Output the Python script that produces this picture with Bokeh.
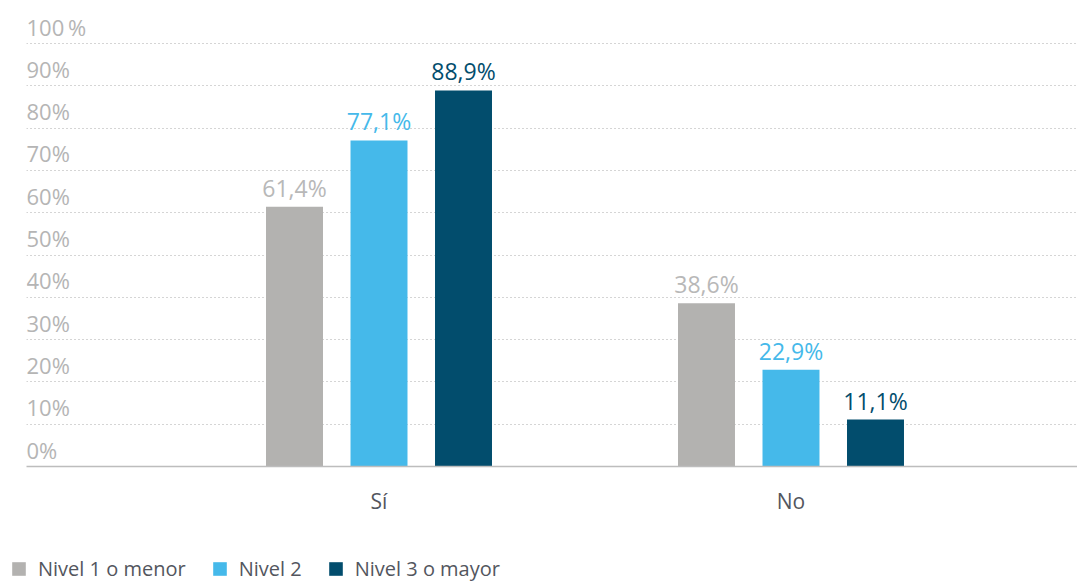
from bokeh.plotting import figure
from bokeh.layouts import column
from bokeh.models import Range1d, FixedTicker, Legend, LegendItem, ColumnDataSource, LabelSet
from bokeh.core.properties import value
from bokeh.embed import file_html
from bokeh.resources import INLINE

# ---- data ----
categories = ["Sí", "No"]
series_names = ["Nivel 1 o menor", "Nivel 2", "Nivel 3 o mayor"]
nivel1 = [61.4, 38.6]
nivel2 = [77.1, 22.9]
nivel3 = [88.9, 11.1]
y_ticks = [0, 10, 20, 30, 40, 50, 60, 70, 80, 90, 100]
y_tick_labels = ["0%", "10%", "20%", "30%", "40%", "50%", "60%", "70%", "80%", "90%", "100\u2009%"]

# ---- style ----
FONT = "Open Sans"
bar_colors = ["#b3b2b0", "#45b9ea", "#024d6d"]
label_colors = ["#b8b8b8", "#45b9ea", "#024d6d"]
axis_text_color = "#b5b5b5"
dark_text = "#53565e"

x_start, x_end = -0.3556, 2.1954
offsets = [-0.2051, 0.0, 0.2051]
bar_width = 0.1383

p = figure(width=1077, height=546, output_backend="svg", toolbar_location=None,
           x_range=Range1d(x_start, x_end), y_range=Range1d(0, 110.17),
           y_axis_location=None,
           min_border_left=26, min_border_right=0, min_border_top=0, min_border_bottom=80)
p.outline_line_color = None
p.background_fill_color = "white"
p.border_fill_color = "white"

p.xgrid.visible = False
p.ygrid.ticker = FixedTicker(ticks=y_ticks[1:])
p.ygrid.grid_line_color = "#aaaaaa"
p.ygrid.grid_line_dash = "1 3"
p.ygrid.grid_line_width = 1

cat_pos = [i + 0.5 for i in range(len(categories))]

for vals, off, col, lcol in zip([nivel1, nivel2, nivel3], offsets, bar_colors, label_colors):
    xs = [c + off for c in cat_pos]
    src = ColumnDataSource(dict(x=xs, top=vals,
                                lab=[f"{v:.1f}%".replace(".", ",") for v in vals]))
    p.vbar(x="x", top="top", width=bar_width, color=col, line_color=None, source=src)
    p.add_layout(LabelSet(x="x", y="top", text="lab", source=src,
                          text_align="center", text_baseline="alphabetic", y_offset=10,
                          text_font=value(FONT), text_font_size=value("23px"),
                          text_color=value(lcol)))

# y tick labels inside the plot, above gridlines
ysrc = ColumnDataSource(dict(x=[x_start] * len(y_ticks), y=y_ticks, lab=y_tick_labels))
p.add_layout(LabelSet(x="x", y="y", text="lab", source=ysrc,
                      text_align="left", text_baseline="alphabetic", y_offset=8,
                      text_font=value(FONT), text_font_size=value("22px"),
                      text_color=value(axis_text_color)))

xa = p.xaxis[0]
xa.ticker = FixedTicker(ticks=cat_pos)
xa.major_label_overrides = {cp: c for cp, c in zip(cat_pos, categories)}
xa.major_tick_line_color = None
xa.minor_tick_line_color = None
xa.axis_line_color = "#bdbdbd"
xa.axis_line_width = 1.5
xa.major_label_standoff = 14
xa.major_label_text_font = FONT
xa.major_label_text_font_size = "21px"
xa.major_label_text_color = dark_text

# ---- legend strip ----
lf = figure(width=1077, height=36, output_backend="svg", toolbar_location=None,
            x_range=Range1d(0, 1), y_range=Range1d(0, 1),
            x_axis_location=None, y_axis_location=None,
            min_border_left=0, min_border_right=0, min_border_top=0, min_border_bottom=0)
lf.outline_line_color = None
lf.border_fill_color = "white"
lf.background_fill_color = "white"
lf.xgrid.visible = False
lf.ygrid.visible = False
try:
    lf.frame_align = False
    p.frame_align = False
except Exception:
    pass
# hidden swatch renderers used only for the legend keys
swatches = []
for c in bar_colors:
    r = lf.vbar(x=[0.5], top=[0], width=0.1, color=c, line_color=None)
    r.visible = False
    swatches.append(r)
legend = Legend(items=[LegendItem(label=n, renderers=[r]) for n, r in zip(series_names, swatches)],
                orientation="horizontal", location=(10, 0),
                glyph_width=17, glyph_height=17, label_standoff=11, spacing=25,
                padding=0, margin=0, border_line_color=None, background_fill_alpha=0,
                label_text_font=FONT, label_text_font_size="20px", label_text_color=dark_text)
lf.add_layout(legend, "center")

layout = column(p, lf, spacing=0)
open("out.html", "w").write(file_html(layout, INLINE))
